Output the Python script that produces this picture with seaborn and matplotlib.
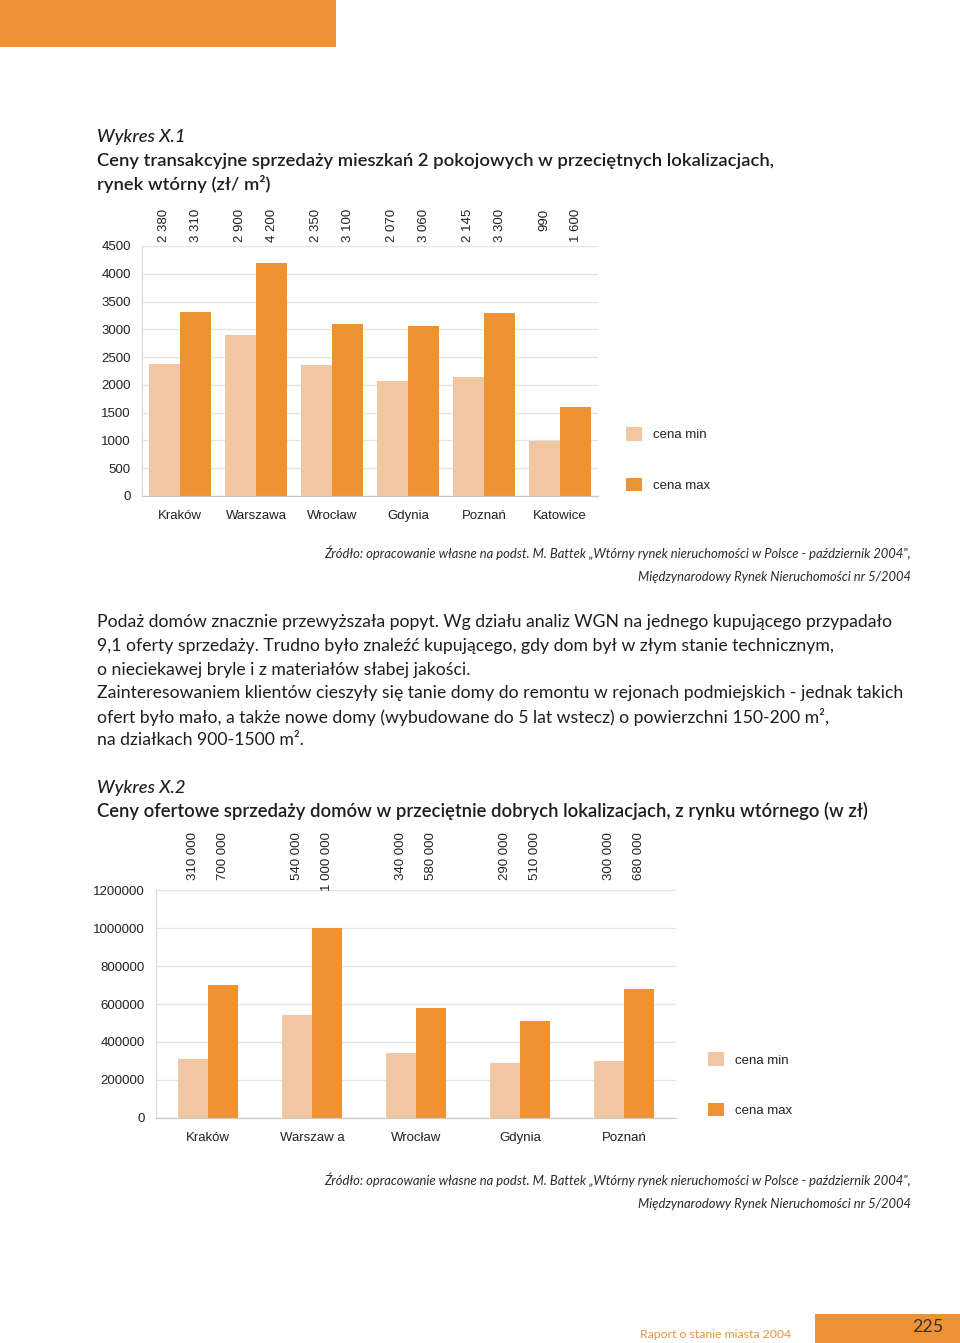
import numpy as np
import pandas as pd
import seaborn as sns
import matplotlib
matplotlib.use("Agg")
import matplotlib.pyplot as plt
from matplotlib.patches import Rectangle

# ---------------- data ----------------
series = ["cena min", "cena max"]

cities1 = ["Kraków", "Warszawa", "Wrocław", "Gdynia", "Poznań", "Katowice"]
min1 = [2380, 2900, 2350, 2070, 2145, 990]
max1 = [3310, 4200, 3100, 3060, 3300, 1600]
yticks1 = [0, 500, 1000, 1500, 2000, 2500, 3000, 3500, 4000, 4500]

cities2 = ["Kraków", "Warszaw a", "Wrocław", "Gdynia", "Poznań"]
min2 = [310000, 540000, 340000, 290000, 300000]
max2 = [700000, 1000000, 580000, 510000, 680000]
yticks2 = [0, 200000, 400000, 600000, 800000, 1000000, 1200000]

# ---------------- style ----------------
C_MIN = "#F0C7A2"
C_MAX = "#EE9234"
ORANGE = "#EE9236"
GRID = "#E4E4E4"
AXC = "#C8C8C8"

sns.set_theme(style="white")
plt.rcParams["font.family"] = ["Liberation Sans", "DejaVu Sans"]

W, H = 960, 1343
fig = plt.figure(figsize=(W / 100, H / 100), dpi=100)
renderer = fig.canvas.get_renderer()


def fx(px):
    return px / W


def fy(py):
    return 1 - py / H


def make_chart(rect_px, cities, vmin, vmax, yticks, width, label_off_pt, leg_x, leg_y):
    l, t, r, b = rect_px
    ax = fig.add_axes([fx(l), fy(b), (r - l) / W, (b - t) / H])
    df = pd.DataFrame({
        "miasto": cities * 2,
        "cena": list(vmin) + list(vmax),
        "seria": [series[0]] * len(cities) + [series[1]] * len(cities),
    })
    sns.barplot(data=df, x="miasto", y="cena", hue="seria", hue_order=series,
                order=cities, palette=[C_MIN, C_MAX], width=width,
                saturation=1, errorbar=None, ax=ax, linewidth=0)
    ax.set_ylim(yticks[0], yticks[-1])
    ax.set_yticks(yticks)
    ax.set_yticklabels([str(v) for v in yticks])
    ax.set_xlim(-0.5, len(cities) - 0.5)
    ax.set_xlabel("")
    ax.set_ylabel("")
    ax.yaxis.grid(True, color=GRID, lw=0.9)
    ax.set_axisbelow(True)
    for s in ("top", "right"):
        ax.spines[s].set_visible(False)
    ax.spines["left"].set_color("#DADADA")
    ax.spines["bottom"].set_color(AXC)
    ax.spines["left"].set_linewidth(0.9)
    ax.spines["bottom"].set_linewidth(0.9)
    ax.tick_params(axis="y", length=0, pad=8, labelsize=9.5, colors="#222222")
    ax.tick_params(axis="x", which="major", length=0, pad=10, labelsize=9.5, colors="#222222")
    ax.set_xticks(np.arange(-0.5, len(cities), 1.0), minor=True)
    ax.tick_params(axis="x", which="minor", length=5, width=0.9, color=AXC, direction="out")

    # value labels above the plot
    for cont, vals in zip(ax.containers, [vmin, vmax]):
        for bar, v in zip(cont.patches, vals):
            xc = bar.get_x() + bar.get_width() / 2
            ax.annotate(f"{v:,}".replace(",", " "), xy=(xc, 1), xycoords=("data", "axes fraction"),
                        xytext=(0, label_off_pt), textcoords="offset points",
                        rotation=90, ha="center", va="top", fontsize=9.5, color="#222222")

    # legend
    handles, labels = ax.get_legend_handles_labels()
    if ax.get_legend() is not None:
        ax.get_legend().remove()
    ax.legend(handles, labels, loc="lower left", bbox_to_anchor=(leg_x, leg_y),
              frameon=False, borderpad=0, borderaxespad=0, fontsize=9.5,
              handlelength=1.2, handleheight=1.2, handletextpad=0.85,
              labelspacing=2.75, labelcolor="#222222")
    return ax


ax1 = make_chart((142, 246, 598, 496), cities1, min1, max1, yticks1, 0.82, 27,
                 (626 - 142) / 456, 4 / 250)
ax2 = make_chart((156, 890, 676, 1118), cities2, min2, max2, yticks2, 0.58, 42,
                 (708 - 156) / 520, 1 / 228)

# ---------------- page decorations ----------------
fig.add_artist(Rectangle((0, fy(47)), fx(336), 47 / H, transform=fig.transFigure,
                         color=ORANGE, lw=0))
fig.add_artist(Rectangle((fx(815), 0), fx(145), 29 / H, transform=fig.transFigure,
                         color=ORANGE, lw=0))

TXT = "Lato"
TC = "#1E1E1E"


def fit_size(s, target, **kw):
    t = fig.text(0, 0, s, fontsize=12, **kw)
    w = t.get_window_extent(renderer).width
    t.remove()
    return 12 * target / w


def put(x, y, s, size, ha="left", **kw):
    return fig.text(fx(x), fy(y), s, fontsize=size, ha=ha, va="center", **kw)


# titles
title_kw = dict(family=[TXT, "DejaVu Sans"], weight="semibold", color=TC)
ts = fit_size("Ceny transakcyjne sprzedaży mieszkań 2 pokojowych w przeciętnych lokalizacjach,", 672, **title_kw)
ital_kw = dict(family=[TXT, "DejaVu Sans"], style="italic", weight="medium", color=TC)
put(97, 137, "Wykres X.1", ts, **ital_kw)
put(97, 161, "Ceny transakcyjne sprzedaży mieszkań 2 pokojowych w przeciętnych lokalizacjach,", ts, **title_kw)
put(97, 184, "rynek wtórny (zł/ m²)", ts, **title_kw)

put(97, 788, "Wykres X.2", ts, **ital_kw)
ts2 = fit_size("Ceny ofertowe sprzedaży domów w przeciętnie dobrych lokalizacjach, z rynku wtórnego (w zł)", 771, **title_kw)
put(97, 811, "Ceny ofertowe sprzedaży domów w przeciętnie dobrych lokalizacjach, z rynku wtórnego (w zł)", ts2, **title_kw)

# sources
src1 = "Źródło: opracowanie własne na podst. M. Battek „Wtórny rynek nieruchomości w Polsce - październik 2004\","
src2 = "Międzynarodowy Rynek Nieruchomości nr 5/2004"
src_kw = dict(family=[TXT, "DejaVu Sans"], style="italic", color="#2A2A2A")
ss = fit_size(src1, 584, **src_kw)
for y0 in (553, 1180):
    put(911, y0, src1, ss, ha="right", **src_kw)
    put(911, y0 + 24, src2, ss, ha="right", **src_kw)

# body paragraph
body = [
    "Podaż domów znacznie przewyższała popyt. Wg działu analiz WGN na jednego kupującego przypadało",
    "9,1 oferty sprzedaży. Trudno było znaleźć kupującego, gdy dom był w złym stanie technicznym,",
    "o nieciekawej bryle i z materiałów słabej jakości.",
    "Zainteresowaniem klientów cieszyły się tanie domy do remontu w rejonach podmiejskich - jednak takich",
    "ofert było mało, a także nowe domy (wybudowane do 5 lat wstecz) o powierzchni 150-200 m²,",
    "na działkach 900-1500 m².",
]
body_y = [622, 646, 670, 693, 717, 740]
body_kw = dict(family=[TXT, "DejaVu Sans"], color=TC)
bs = fit_size(body[0], 791, **body_kw)
for s, y0 in zip(body, body_y):
    put(97, y0, s, bs, **body_kw)

# footer
foot_kw = dict(family=[TXT, "DejaVu Sans"], color="#E8943A")
fs = fit_size("Raport o stanie miasta 2004", 150, **foot_kw)
put(640, 1334, "Raport o stanie miasta 2004", fs, **foot_kw)
num_kw = dict(family=[TXT, "DejaVu Sans"], color="#333333")
ns = fit_size("225", 31, **num_kw)
put(943, 1327, "225", ns, ha="right", **num_kw)

fig.savefig("out.png", dpi=100)
